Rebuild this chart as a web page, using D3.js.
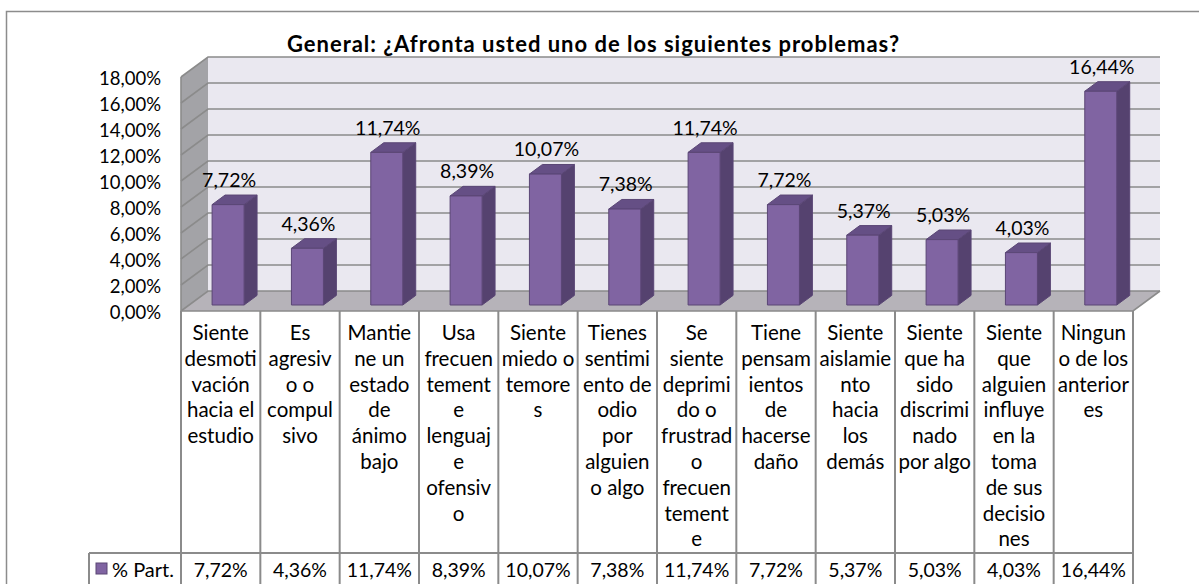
<!DOCTYPE html>
<html>
<head>
<meta charset="utf-8">
<script src="https://cdn.jsdelivr.net/npm/d3@7"></script>
<style>
  html, body { margin: 0; padding: 0; background: #ffffff; }
  svg { display: block; font-family: Lato, "Open Sans", sans-serif; }
</style>
</head>
<body>
<svg id="svg"></svg>
<script>
// chart data
var title      = "General: ¿Afronta usted uno de los siguientes problemas?";
var seriesName = "% Part.";
var values     = [7.72, 4.36, 11.74, 8.39, 10.07, 7.38, 11.74, 7.72, 5.37, 5.03, 4.03, 16.44];
var categories = [
	["Siente", "desmoti", "vación", "hacia el", "estudio"],
	["Es", "agresiv", "o o", "compul", "sivo"],
	["Mantie", "ne un", "estado", "de", "ánimo", "bajo"],
	["Usa", "frecuen", "tement", "e", "lenguaj", "e", "ofensiv", "o"],
	["Siente", "miedo o", "temore", "s"],
	["Tienes", "sentimi", "ento de", "odio", "por", "alguien", "o algo"],
	["Se", "siente", "deprimi", "do o", "frustrad", "o", "frecuen", "tement", "e"],
	["Tiene", "pensam", "ientos", "de", "hacerse", "daño"],
	["Siente", "aislamie", "nto", "hacia", "los", "demás"],
	["Siente", "que ha", "sido", "discrimi", "nado", "por algo"],
	["Siente", "que", "alguien", "influye", "en la", "toma", "de sus", "decisio", "nes"],
	["Ningun", "o de los", "anterior", "es"]
];
var yTicks = [0, 2, 4, 6, 8, 10, 12, 14, 16, 18];

(function() {
	var outer_width  = 1199;
	var outer_height = 584;

	var es = d3.formatLocale({decimal: ",", thousands: ".", grouping: [3], currency: ["", "€"]});
	var pct = function(v) { return es.format(".2%")(v / 100); };

	// front plane of the 3d box
	var left   = 181,
	    right  = 1133,
	    DX     = 27,   // depth offset, pixels
	    DY     = 20;

	var x = d3.scaleBand()
		    .domain(d3.range(values.length))
		    .range([left, right])
		    .paddingInner(0)
		    .paddingOuter(0);

	var y = d3.scaleLinear()
		    .domain([0, 18])
		    .range([311, 77]);

	// project (px, value, depth 0..1) to the screen
	function P(px, v, z) { return [px + z * DX, y(v) - z * DY]; }
	function poly(pts) { return pts.map(function(p) { return p.join(","); }).join(" "); }

	var svg = d3.select("#svg")
		    .attr("width",  outer_width)
		    .attr("height", outer_height);

	// chart border
	svg.append("path")
		.attr("d", "M6.5," + outer_height + "V11.5H" + outer_width)
		.attr("fill", "none")
		.attr("stroke", "#8c8c8c")
		.attr("stroke-width", 1.5);

	// title
	svg.append("text")
		.attr("x", 593)
		.attr("y", 52)
		.attr("text-anchor", "middle")
		.attr("font-weight", "bold")
		.attr("font-size", 22)
		.attr("textLength", 612)
		.attr("lengthAdjust", "spacing")
		.attr("fill", "#000")
		.text(title);

	// walls
	svg.append("polygon")
		.attr("points", poly([P(left, 18, 1), P(right, 18, 1), P(right, 0, 1), P(left, 0, 1)]))
		.attr("fill", "#eae8f0");

	svg.append("polygon")
		.attr("points", poly([P(left, 18, 0), P(left, 18, 1), P(left, 0, 1), P(left, 0, 0)]))
		.attr("fill", "#a3a3a7");

	svg.append("polygon")
		.attr("points", poly([P(left, 0, 0), P(left, 0, 1), P(right, 0, 1), P(right, 0, 0)]))
		.attr("fill", "#b6b3b9");

	// gridlines
	var grid = svg.append("g")
		    .attr("stroke", "#8b8b8b")
		    .attr("stroke-width", 1.6)
		    .attr("fill", "none");

	yTicks.forEach(function(t) {
		var a = P(left, t, 0), b = P(left, t, 1), c = P(right, t, 1);
		grid.append("path")
			.attr("d", "M" + a + "L" + b + "L" + c);
	});

	grid.append("path")
		.attr("d", "M" + P(left, 18, 0) + "L" + P(left, 0, 0) + "L" + P(right, 0, 0) + "L" + P(right, 0, 1));

	// y axis labels
	svg.append("g")
		.selectAll("text")
		.data(yTicks)
		.enter()
		.append("text")
		.attr("x", 161)
		.attr("y", function(t) { return y(t) + 8; })
		.attr("text-anchor", "end")
		.attr("font-size", 18.5)
		.attr("fill", "#000")
		.text(function(t) { return pct(t); });

	// bars
	var z0 = 0.3,
	    z1 = 0.78;

	var bars = svg.append("g")
		    .selectAll("g")
		    .data(values)
		    .enter()
		    .append("g")
		    .attr("stroke", "#5a4675")
		    .attr("stroke-width", 1)
		    .attr("stroke-linejoin", "round");

	bars.each(function(v, i) {
		var g  = d3.select(this);
		var xa = x(i) + 23,
		    xb = x(i) + 55;

		g.append("polygon") // side
			.attr("points", poly([P(xb, 0, z0), P(xb, 0, z1), P(xb, v, z1), P(xb, v, z0)]))
			.attr("fill", "#55426f");
		g.append("polygon") // top
			.attr("points", poly([P(xa, v, z0), P(xa, v, z1), P(xb, v, z1), P(xb, v, z0)]))
			.attr("fill", "#654f85");
		g.append("polygon") // front
			.attr("points", poly([P(xa, 0, z0), P(xb, 0, z0), P(xb, v, z0), P(xa, v, z0)]))
			.attr("fill", "#8064a2");
	});

	// data labels
	svg.append("g")
		.selectAll("text")
		.data(values)
		.enter()
		.append("text")
		.attr("x", function(v, i) { return P(x(i) + 40, v, z0)[0]; })
		.attr("y", function(v, i) { return P(0, v, z1)[1] - 8; })
		.attr("text-anchor", "middle")
		.attr("font-size", 19.5)
		.attr("fill", "#000")
		.text(function(v) { return pct(v); });

	// data table
	var rowTop = 311,
	    rowMid = 553,
	    legL   = 89;

	var table = svg.append("g")
		    .attr("stroke", "#8b8b8b")
		    .attr("stroke-width", 2)
		    .attr("fill", "none");

	table.append("path").attr("d", "M" + legL + "," + rowMid + "H" + right);
	table.append("path").attr("d", "M" + legL + "," + rowMid + "V" + outer_height);
	d3.range(values.length + 1).forEach(function(i) {
		var xx = i < values.length ? x(i) : right;
		table.append("path").attr("d", "M" + xx + "," + rowTop + "V" + outer_height);
	});

	var labels = svg.append("g")
		    .attr("font-size", 20.5)
		    .attr("fill", "#000")
		    .attr("text-anchor", "middle");

	categories.forEach(function(lines, i) {
		var t = labels.append("text");
		lines.forEach(function(s, k) {
			t.append("tspan")
				.attr("x", x(i) + x.bandwidth() / 2)
				.attr("y", 340 + k * 25.8)
				.text(s);
		});
	});

	labels.selectAll(".val")
		.data(values)
		.enter()
		.append("text")
		.attr("class", "val")
		.attr("x", function(v, i) { return x(i) + x.bandwidth() / 2; })
		.attr("y", 577)
		.attr("font-size", 19.5)
		.text(function(v) { return pct(v); });

	// legend key
	svg.append("rect")
		.attr("x", 96)
		.attr("y", 563)
		.attr("width", 11)
		.attr("height", 11)
		.attr("fill", "#8064a2")
		.attr("stroke", "#5a4675");

	svg.append("text")
		.attr("x", 112)
		.attr("y", 577)
		.attr("font-size", 20)
		.attr("fill", "#000")
		.text(seriesName);
})();
</script>
</body>
</html>
